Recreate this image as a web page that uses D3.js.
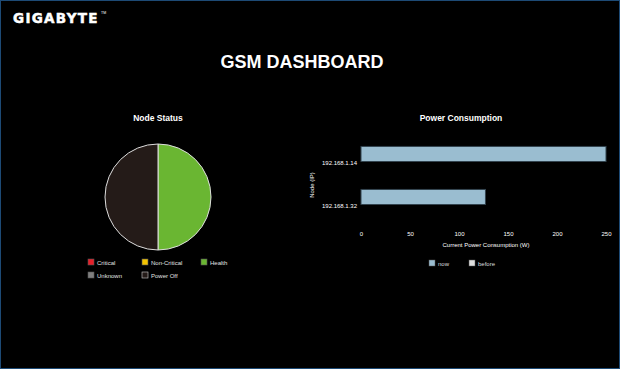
<!DOCTYPE html>
<html>
<head>
<meta charset="utf-8">
<script src="https://cdn.jsdelivr.net/npm/d3@7"></script>
<style>
  html, body { margin: 0; padding: 0; background: #000; }
  svg { display: block; font-family: "Liberation Sans", Arial, sans-serif; }
</style>
</head>
<body>
<svg id="dash" width="620" height="369"></svg>
<script>
// node status
const statusNames = ['Critical', 'Non-Critical', 'Health', 'Unknown', 'Power Off'];
const statusColors = ['#e6202a', '#f3c300', '#6ab632', '#7f7f7f', '#241b18'];
const statusCounts = [0, 0, 1, 0, 1];

// power consumption
const nodeIps = ['192.168.1.14', '192.168.1.32'];
const seriesNames = ['now', 'before'];
const seriesColors = ['#9abdd0', '#dedede'];
const powerNow = [250, 127];
const powerBefore = [0, 0];
const powerTicks = [0, 50, 100, 150, 200, 250];

const svg = d3.select('#dash');

// frame
svg.append('rect')
  .attr('x', 0.5).attr('y', 0.5)
  .attr('width', 619).attr('height', 368)
  .attr('fill', '#000')
  .attr('stroke', '#1d4a75');

// logo
svg.append('text')
  .attr('x', 13).attr('y', 22.5)
  .attr('font-family', '"DejaVu Sans", sans-serif')
  .attr('font-weight', 'bold')
  .attr('font-size', 13.5)
  .attr('letter-spacing', 1.3)
  .attr('fill', '#fff')
  .attr('stroke', '#fff')
  .attr('stroke-width', 0.5)
  .text('GIGABYTE');
svg.append('text')
  .attr('x', 101).attr('y', 14)
  .attr('font-size', 3.5)
  .attr('fill', '#fff')
  .text('TM');

svg.append('text')
  .attr('x', 302).attr('y', 68)
  .attr('text-anchor', 'middle')
  .attr('font-weight', 'bold')
  .attr('font-size', 18)
  .attr('fill', '#fff')
  .text('GSM DASHBOARD');

// ---- pie ----
const pieG = svg.append('g');
pieG.append('text')
  .attr('x', 158).attr('y', 121)
  .attr('text-anchor', 'middle')
  .attr('font-weight', 'bold')
  .attr('font-size', 8.5)
  .attr('fill', '#fff')
  .text('Node Status');

const pieData = statusNames.map((n, i) => ({ name: n, value: statusCounts[i], color: statusColors[i] }));
const pie = d3.pie().sort(null).value(d => d.value);
const arc = d3.arc().innerRadius(0).outerRadius(53);
pieG.append('g')
  .attr('transform', 'translate(158,197)')
  .selectAll('path')
  .data(pie(pieData).filter(d => d.data.value > 0))
  .enter().append('path')
  .attr('d', arc)
  .attr('fill', d => d.data.color)
  .attr('stroke', '#ddd')
  .attr('stroke-width', 1);

const legX = [88, 142, 201];
const legend = pieG.selectAll('g.leg')
  .data(pieData)
  .enter().append('g')
  .attr('transform', (d, i) => `translate(${legX[i % 3]},${259 + Math.floor(i / 3) * 13})`);
legend.append('rect')
  .attr('width', 6).attr('height', 6)
  .attr('fill', d => d.color)
  .attr('stroke', d => d.name === 'Power Off' ? '#ccc' : '#555')
  .attr('stroke-width', 0.6);
legend.append('text')
  .attr('x', 9).attr('y', 5.5)
  .attr('font-size', 6)
  .attr('fill', '#e2e2e2')
  .text(d => d.name);

// ---- bars ----
const barG = svg.append('g');
barG.append('text')
  .attr('x', 461).attr('y', 121)
  .attr('text-anchor', 'middle')
  .attr('font-weight', 'bold')
  .attr('font-size', 8.5)
  .attr('fill', '#fff')
  .text('Power Consumption');

const x = d3.scaleLinear().domain([0, 250]).range([361, 606]);
const y0 = d3.scaleBand().domain(nodeIps).range([140, 226]).paddingInner(0.3).paddingOuter(0.15);
const y1 = d3.scaleBand().domain(seriesNames).range([0, y0.bandwidth()]);

const rows = nodeIps.map((ip, i) => ({ ip, values: [powerNow[i], powerBefore[i]] }));
const groups = barG.selectAll('g.grp')
  .data(rows)
  .enter().append('g')
  .attr('transform', d => `translate(0,${y0(d.ip)})`);
groups.selectAll('rect')
  .data(d => d.values.map((v, j) => ({ key: seriesNames[j], value: v, color: seriesColors[j] })).filter(d => d.value > 0))
  .enter().append('rect')
  .attr('x', x(0))
  .attr('y', d => y1(d.key))
  .attr('width', d => x(d.value) - x(0))
  .attr('height', y1.bandwidth())
  .attr('fill', d => d.color)
  .attr('stroke', '#33444f')
  .attr('stroke-width', 1);

const yAxis = barG.append('g')
  .attr('transform', 'translate(358,1.5)')
  .call(d3.axisLeft(y0).tickSize(0).tickPadding(1));
yAxis.select('.domain').remove();
yAxis.selectAll('text').attr('font-size', 6).attr('fill', '#fff').attr('font-family', '"Liberation Sans", Arial, sans-serif');

const xAxis = barG.append('g')
  .attr('transform', 'translate(0,228)')
  .call(d3.axisBottom(x).tickValues(powerTicks).tickSize(0).tickPadding(4));
xAxis.select('.domain').remove();
xAxis.selectAll('text').attr('font-size', 6).attr('fill', '#fff').attr('font-family', '"Liberation Sans", Arial, sans-serif');

barG.append('text')
  .attr('x', 486).attr('y', 247)
  .attr('text-anchor', 'middle')
  .attr('font-size', 6)
  .attr('fill', '#fff')
  .text('Current Power Consumption (W)');
barG.append('text')
  .attr('transform', 'translate(314,185) rotate(-90)')
  .attr('text-anchor', 'middle')
  .attr('font-size', 6)
  .attr('fill', '#fff')
  .text('Node (IP)');

const sLeg = barG.selectAll('g.sleg')
  .data(seriesNames)
  .enter().append('g')
  .attr('transform', (d, i) => `translate(${429 + i * 40},260)`);
sLeg.append('rect')
  .attr('width', 6).attr('height', 6)
  .attr('fill', (d, i) => seriesColors[i])
  .attr('stroke', '#555')
  .attr('stroke-width', 0.5);
sLeg.append('text')
  .attr('x', 9).attr('y', 5.5)
  .attr('font-size', 6)
  .attr('fill', '#ddd')
  .text(d => d);
</script>
</body>
</html>
